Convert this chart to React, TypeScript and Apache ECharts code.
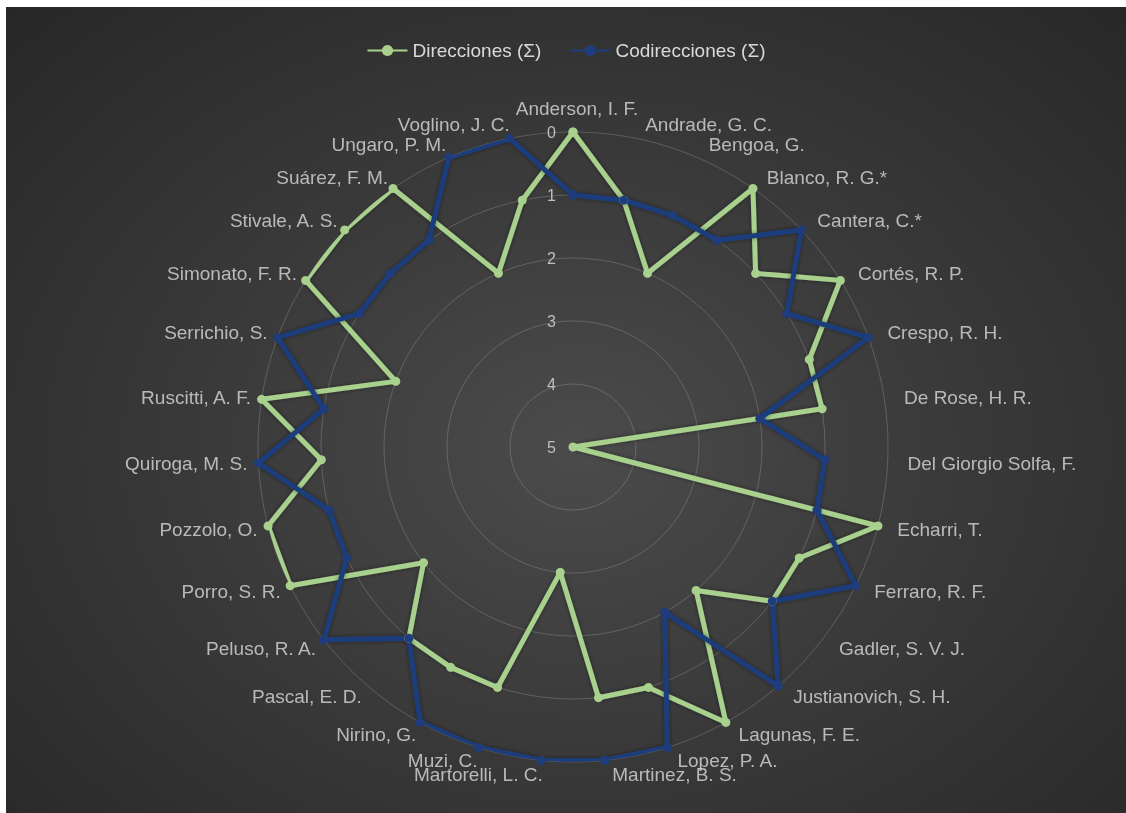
import React, { useEffect, useRef } from "react";
import * as echarts from "echarts";

const categories = [
  "Anderson, I. F.",
  "Andrade, G. C.",
  "Bengoa, G.",
  "Blanco, R. G.*",
  "Cantera, C.*",
  "Cortés, R. P.",
  "Crespo, R. H.",
  "De Rose, H. R.",
  "Del Giorgio Solfa, F.",
  "Echarri, T.",
  "Ferraro, R. F.",
  "Gadler, S. V. J.",
  "Justianovich, S. H.",
  "Lagunas, F. E.",
  "Lopez, P. A.",
  "Martinez, B. S.",
  "Martorelli, L. C.",
  "Muzi, C.",
  "Nirino, G.",
  "Pascal, E. D.",
  "Peluso, R. A.",
  "Porro, S. R.",
  "Pozzolo, O.",
  "Quiroga, M. S.",
  "Ruscitti, A. F.",
  "Serrichio, S.",
  "Simonato, F. R.",
  "Stivale, A. S.",
  "Suárez, F. M.",
  "Ungaro, P. M.",
  "Voglino, J. C.",
];

const direcciones = [0, 1, 2, 0, 1, 0, 1, 1, 5, 0, 1, 1, 2, 0, 1, 1, 3, 1, 1, 1, 2, 0, 0, 1, 0, 2, 0, 0, 0, 2, 1];
const codirecciones = [1, 1, 1, 1, 0, 1, 0, 2, 1, 1, 0, 1, 0, 2, 0, 0, 0, 0, 0, 1, 0, 1, 1, 0, 1, 0, 1, 1, 1, 0, 0];

const seriesNames = ["Direcciones (Σ)", "Codirecciones (Σ)"];
const radiusMin = 0;
const radiusMax = 5;
const radiusInterval = 1;

const GREEN = "#a9d18e";
const BLUE = "#1f3d7c";
const FONT = "'Liberation Sans', Arial, sans-serif";
// radius (in axis units, beyond the outer ring 0) where category names sit
const LABEL_RADIUS = -0.22;

const N = categories.length;

// each category sits at angle index i; the loop is closed by repeating the first value at index N (= 360°)
function closedLoop(values: number[]) {
  const pts = values.map((v, i) => [v, i]);
  pts.push([values[0], N]);
  return pts;
}

function categoryLabelData() {
  return categories.map((name, i) => {
    const s = Math.sin((2 * Math.PI * i) / N);
    let align = "center";
    let verticalAlign = "bottom";
    let dx = 4;
    if (i !== 0) {
      align = s > 0 ? "left" : "right";
      verticalAlign = "middle";
      dx = s > 0 ? 6 : 3;
    }
    return {
      name,
      value: [LABEL_RADIUS, i],
      label: { align, verticalAlign, offset: [dx, 0] },
    };
  });
}

export default function App() {
  const ref = useRef<HTMLDivElement>(null);

  useEffect(() => {
    if (!ref.current) return;
    const chart = echarts.init(ref.current, null, { renderer: "svg" });
    const mk = (name: string, values: number[], color: string) => ({
      name,
      type: "line",
      coordinateSystem: "polar",
      data: closedLoop(values),
      clip: false,
      symbol: "circle",
      symbolSize: 9,
      lineStyle: { color, width: 5, shadowColor: "rgba(0,0,0,0.45)", shadowBlur: 4 },
      itemStyle: { color },
      emphasis: { disabled: true },
    });
    chart.setOption({
      animation: false,
      backgroundColor: "transparent",
      textStyle: { fontFamily: FONT },
      legend: {
        top: 29,
        left: "center",
        itemWidth: 40,
        itemHeight: 14,
        itemGap: 28,
        textStyle: { color: "#d9d9d9", fontSize: 19, fontFamily: FONT },
        data: seriesNames,
      },
      polar: { center: [567, 440], radius: 315 },
      angleAxis: {
        type: "value",
        min: 0,
        max: N,
        startAngle: 90,
        clockwise: true,
        axisLine: { show: false },
        axisTick: { show: false },
        splitLine: { show: false },
        axisLabel: { show: false },
      },
      radiusAxis: {
        type: "value",
        min: radiusMin,
        max: radiusMax,
        interval: radiusInterval,
        inverse: true,
        axisLine: { show: false },
        axisTick: { show: false },
        axisLabel: { color: "#bfbfbf", fontSize: 16, fontFamily: FONT, margin: 17 },
        splitLine: { show: true, lineStyle: { color: "rgba(200,200,200,0.25)", width: 1 } },
      },
      series: [
        mk(seriesNames[0], direcciones, GREEN),
        mk(seriesNames[1], codirecciones, BLUE),
        {
          name: "categorías",
          type: "scatter",
          coordinateSystem: "polar",
          clip: false,
          silent: true,
          symbolSize: 1,
          itemStyle: { color: "rgba(0,0,0,0)" },
          data: categoryLabelData(),
          label: {
            show: true,
            position: "inside",
            formatter: "{b}",
            color: "#d9d9d9",
            fontSize: 19,
            fontFamily: FONT,
          },
          emphasis: { disabled: true },
          z: 5,
        },
      ],
    });
    return () => chart.dispose();
  }, []);

  return (
    <div
      style={{
        position: "fixed",
        left: 6,
        top: 7,
        width: 1120,
        height: 806,
        background: "radial-gradient(ellipse at 51% 55%, #4b4b4b 0%, #3a3a3a 45%, #272727 100%)",
      }}
    >
      <div ref={ref} style={{ width: 1120, height: 806 }} />
    </div>
  );
}
